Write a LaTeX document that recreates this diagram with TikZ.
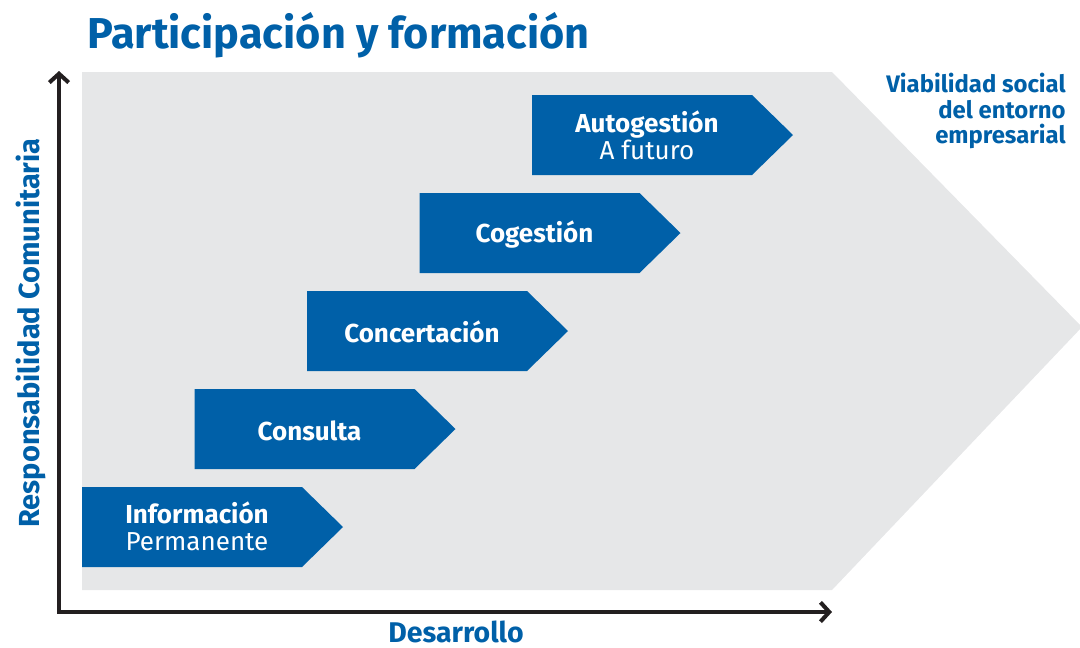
\documentclass[tikz,border=0pt]{standalone}
\usepackage{fontspec}
\setmainfont{Fira Sans}
\usetikzlibrary{arrows.meta,positioning}
\definecolor{deepblue}{HTML}{0060A8}
\definecolor{panelgray}{HTML}{E6E7E8}
\definecolor{axisgray}{HTML}{231F20}

\begin{document}
\begin{tikzpicture}[
    x=0.02cm, y=-0.02cm,
    stepbox/.style={font=\fontsize{14.8}{15.4}\selectfont, text=white, align=center, inner sep=0pt},
    axis/.style={-{Straight Barb[length=5pt,width=11pt]}, line width=2.3pt, axisgray},
    axislabel/.style={font=\fontsize{#1}{18}\selectfont\bfseries, deepblue, inner sep=0pt},
  ]
  \useasboundingbox (0,0) rectangle (1080,647);

  % =================== Background arrow ===================
  \fill[panelgray] (82,72) -- (832,72) -- (1082,327) -- (832,590) -- (82,590) -- cycle;

  % =================== Title ===================
  \node[font=\fontsize{24.6}{30}\selectfont\bfseries, deepblue, anchor=base west, inner sep=0pt]
    (title) at (87,48) {Participación y formación};

  % =================== Steps ===================
  \foreach \k in {0,...,4} {
    \fill[deepblue] (82+112.5*\k, 487-98*\k) -- ++(220,0) -- ++(41,40) -- ++(-41,40) -- ++(-220,0) -- cycle;
  }

  \node[stepbox] (info) at (197,526) {\textbf{Información}\\Permanente};
  \node[stepbox] (consulta) at (309.5,431) {\textbf{Consulta}};
  \node[stepbox] (concert) at (422,332) {\textbf{Concertación}};
  \node[stepbox] (coges) at (534.5,235) {\textbf{Cogestión}};
  \node[stepbox] (autoges) at (647,135) {\textbf{Autogestión}\\A futuro};

  % =================== Goal ===================
  \node[font=\fontsize{13.6}{14.5}\selectfont\bfseries, deepblue, align=right, anchor=north east, inner sep=0pt]
    (goal) at (1066,73) {Viabilidad social\\del entorno\\empresarial};

  % =================== Axes ===================
  \coordinate (origin) at (59,612);
  \coordinate (ytop) at (59,71);
  \coordinate (xend) at (832,612);
  \draw[axis] (origin) -- (ytop);
  \draw[axis] ([xshift=-1.1pt]origin) -- (xend);

  \node[axislabel=16.2, anchor=base] (xlabel) at (456,642) {Desarrollo};
  \node[axislabel=16.5, anchor=base, rotate=90] (ylabel) at (39,333) {Responsabilidad Comunitaria};

\end{tikzpicture}
\end{document}
